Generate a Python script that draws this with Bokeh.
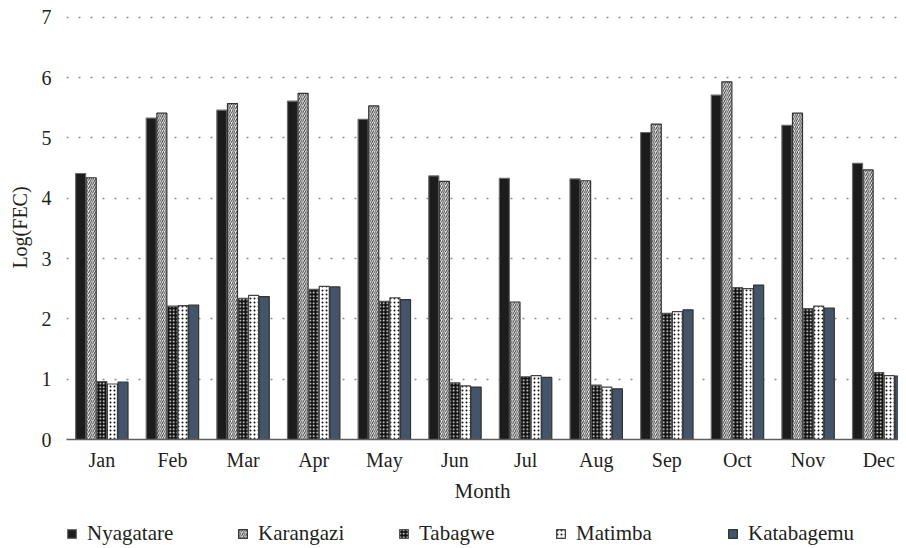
import numpy as np
from bokeh.plotting import figure
from bokeh.layouts import column
from bokeh.models import ColumnDataSource, FixedTicker, Range1d, Legend, LegendItem
from bokeh.transform import dodge
from bokeh.embed import file_html
from bokeh.resources import INLINE

months = ["Jan", "Feb", "Mar", "Apr", "May", "Jun", "Jul", "Aug", "Sep", "Oct", "Nov", "Dec"]
series_names = ["Nyagatare", "Karangazi", "Tabagwe", "Matimba", "Katabagemu"]
nyagatare = [4.41, 5.33, 5.46, 5.61, 5.31, 4.37, 4.33, 4.32, 5.09, 5.71, 5.21, 4.58]
karangazi = [4.34, 5.41, 5.57, 5.74, 5.53, 4.28, 2.28, 4.29, 5.23, 5.93, 5.41, 4.47]
tabagwe = [0.96, 2.21, 2.34, 2.49, 2.29, 0.94, 1.04, 0.90, 2.09, 2.52, 2.17, 1.11]
matimba = [0.92, 2.22, 2.39, 2.54, 2.35, 0.89, 1.06, 0.87, 2.12, 2.50, 2.21, 1.06]
katabagemu = [0.95, 2.23, 2.37, 2.53, 2.32, 0.87, 1.03, 0.84, 2.15, 2.56, 2.18, 1.05]
y_ticks = [0, 1, 2, 3, 4, 5, 6, 7]

src = ColumnDataSource(dict(
    x=list(range(len(months))),
    Nyagatare=nyagatare, Karangazi=karangazi, Tabagwe=tabagwe,
    Matimba=matimba, Katabagemu=katabagemu,
))

FONT = "Liberation Serif"
TXT = "#231f20"

p = figure(width=898, height=505, output_backend="svg", toolbar_location=None,
           x_range=Range1d(-0.5, 11.28), y_range=Range1d(0, 7.03),
           min_border_left=66, min_border_right=0, min_border_top=15,
           min_border_bottom=64)
p.outline_line_color = None
p.background_fill_color = "white"

styles = [
    dict(fill_color="#1c1c1c", line_color="#6a6a6a", line_width=1.2),
    dict(fill_color="white", line_color="#333333", line_width=1.2,
         hatch_pattern="right_diagonal_line", hatch_color="#333333",
         hatch_scale=4.2, hatch_weight=1.0),
    dict(fill_color="#111111", line_color="#555555", line_width=1.2,
         hatch_pattern="dot", hatch_color="white", hatch_scale=3.5, hatch_weight=1),
    dict(fill_color="white", line_color="#444444", line_width=1.2,
         hatch_pattern="dot", hatch_color="#111111", hatch_scale=4, hatch_weight=1),
    dict(fill_color="#44546a", line_color="#333333", line_width=1.2),
]
offsets = [-0.30, -0.15, 0.0, 0.15, 0.30]

for name, off, st in zip(series_names, offsets, styles):
    p.vbar(x=dodge("x", off), top=name, bottom=0, width=0.142, source=src, **st)

p.xgrid.visible = False
p.ygrid.ticker = FixedTicker(ticks=y_ticks[1:])
p.ygrid.grid_line_color = "#8c8c8c"
p.ygrid.grid_line_dash = "2 10"
p.ygrid.grid_line_width = 1.5

p.yaxis.ticker = FixedTicker(ticks=y_ticks)
p.yaxis.axis_line_color = None
p.yaxis.major_tick_line_color = None
p.yaxis.minor_tick_line_color = None
p.yaxis.major_tick_out = 0
p.yaxis.minor_tick_out = 0
p.yaxis.major_label_standoff = 15
p.yaxis.axis_label = "Log(FEC)"
p.yaxis.axis_label_standoff = 8

p.xaxis.ticker = FixedTicker(ticks=list(range(len(months))))
p.xaxis.major_label_overrides = {i: m for i, m in enumerate(months)}
p.xaxis.axis_line_color = "#5f5f5f"
p.xaxis.axis_line_width = 1.5
p.xaxis.major_tick_line_color = None
p.xaxis.minor_tick_line_color = None
p.xaxis.major_tick_out = 0
p.xaxis.minor_tick_out = 0
p.xaxis.major_label_standoff = 9
p.xaxis.axis_label = "Month"
p.xaxis.axis_label_standoff = 5

for ax in (p.xaxis, p.yaxis):
    ax.major_label_text_font = FONT
    ax.major_label_text_font_size = "20px"
    ax.major_label_text_color = TXT
    ax.axis_label_text_font = FONT
    ax.axis_label_text_font_size = "20px"
    ax.axis_label_text_font_style = "normal"
    ax.axis_label_text_color = TXT
p.xaxis.axis_label_text_font_size = "21px"

# legend strip below the chart (its renderers sit outside its visible range)
pl = figure(width=898, height=43, output_backend="svg", toolbar_location=None,
            x_range=Range1d(-0.5, 11.28), y_range=Range1d(100, 101),
            x_axis_location=None, y_axis_location=None,
            min_border=0, min_border_left=0, min_border_right=0,
            min_border_top=0, min_border_bottom=0)
pl.outline_line_color = None
pl.xgrid.visible = False
pl.ygrid.visible = False

legend_x = [0, 171, 332, 489, 661]
for name, st, lx in zip(series_names, styles, legend_x):
    r = pl.vbar(x="x", top=name, bottom=0, width=0.1, source=src, **st)
    lg = Legend(items=[LegendItem(label=name, renderers=[r])], location=(lx, 2),
                orientation="horizontal", padding=0, margin=0,
                border_line_color=None, background_fill_alpha=0,
                label_text_font=FONT, label_text_font_size="21px",
                label_text_color=TXT,
                glyph_width=11, glyph_height=11, label_standoff=10)
    pl.add_layout(lg, "center")

open("out.html", "w").write(file_html(column(p, pl, spacing=0), INLINE))
